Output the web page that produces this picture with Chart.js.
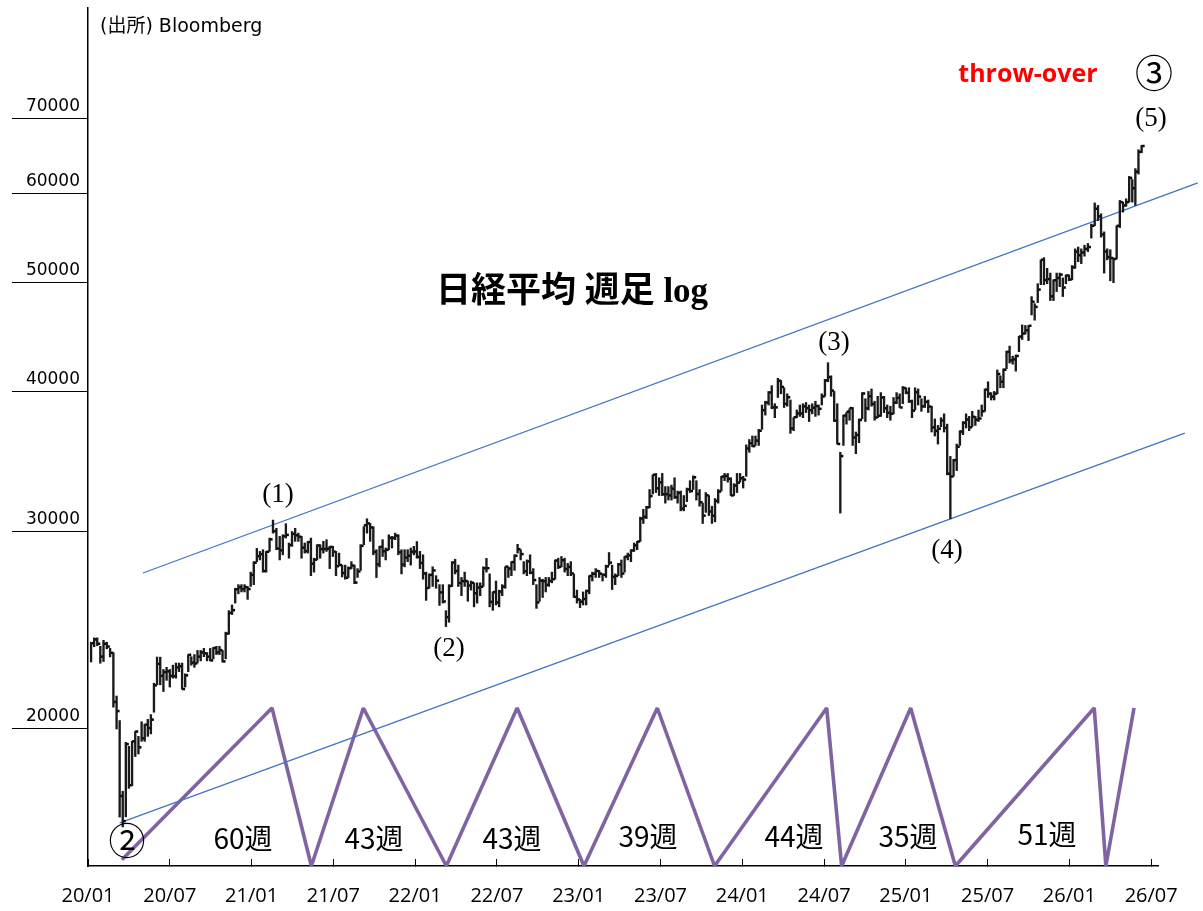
<!DOCTYPE html>
<html><head><meta charset="utf-8">
<script src="https://cdn.jsdelivr.net/npm/chart.js@4.4.1/dist/chart.umd.min.js"></script>
<style>html,body{margin:0;padding:0;background:#fff}canvas{display:block}</style>
</head><body>
<canvas id="c" width="1203" height="911"></canvas>
<script>
// ---------- DATA ----------
const firstWeek = '2020-01-06'; // Monday of first weekly bar
const high = [
// 2020
23903,24115,24116,23700,23995,23900,23600,23400,21400,20350,17600,19460,19300,19500,19900,19700,20300,20200,20400,20600,21970,23185,23180,22600,22700,22600,22800,22900,22900,22900,22400,23300,23200,23300,23500,23500,23600,23400,23600,23650,23700,23700,23500,24400,25500,25800,26700,26900,26900,26900,26800,27600,
// 2021
28200,28979,28800,28900,28800,29600,30714,30200,29700,29800,30485,29300,30000,30200,29900,29700,29300,29400,29600,28400,29200,29200,29400,29500,29100,29100,28800,28700,28000,28000,27900,28200,28000,27800,29200,30300,30795,30500,30300,28900,29100,29500,29000,29800,29700,29900,29800,28900,28900,28900,29000,29100,
// 2022
29388,28800,28600,27600,27500,27900,27400,26900,26900,25500,26900,28200,28338,28000,27300,27600,27100,27100,27000,27000,27000,27900,28389,27500,26500,27100,26600,26900,27900,27900,28200,28600,29222,28900,28200,28300,28600,27800,26900,27300,27200,27300,27300,27600,28300,28400,28500,28400,28100,28200,27500,26600,
// 2023
26100,26500,26600,27400,27600,27800,27700,27500,28000,28734,28000,27500,28100,28300,28500,28700,28900,29300,29400,30900,31400,31600,32700,33700,33800,33500,33800,32900,32900,33000,33500,32600,32600,32300,32800,33300,33634,33300,32700,31800,32500,32300,31600,32100,32700,33600,33800,33800,33500,33100,33800,33800,
// 2024
33600,35839,36239,36500,36500,37000,38900,39200,39990,40472,39000,41087,40900,40300,39800,39300,37900,38500,38900,39000,39100,38900,39000,39200,38900,39800,41000,42426,41300,40000,39000,35300,38100,38300,38600,38700,36800,37800,39900,39400,40000,40200,39200,39600,39900,39600,38900,38800,39500,39900,39800,40400,40300,
// 2025
40300,39300,40300,40200,39400,39600,39300,38800,37800,37300,37900,38200,37400,35000,34800,35900,36900,37600,38200,38000,38400,38000,38500,38900,40200,40800,39900,40000,41800,41300,41900,43451,43900,43000,43100,44800,45852,45800,45800,48597,47900,49900,52400,52636,51500,51000,50300,51000,51000,50500,50800,50800,
// 2026
51800,53600,53800,53600,54000,54200,56400,58900,58600,57600,55500,53600,53500,52600,56200,59200,59000,59400,62200,61800,63200,65700,66300
];
const low = [
// 2020
22951,23680,23730,22892,22971,23580,23190,20916,20000,16690,16358,16700,17707,17800,18900,19000,19500,19500,19700,19800,20700,21900,21900,21600,22100,21800,22200,22200,22500,21700,21800,22500,22800,22700,22900,23000,23200,23000,23000,23100,23300,23300,22948,23100,24300,25300,25900,26400,26500,26500,26100,26800,
// 2021
26900,28200,28300,27600,27600,28800,29900,28900,28300,28600,29600,28400,29100,29400,29400,28400,28700,28700,27400,27600,28300,28400,28700,28800,27800,28500,27400,28000,27330,27200,27300,27800,26954,27300,27700,29200,29900,29400,28600,27293,27900,28500,28300,28900,29000,29500,28600,27500,27900,28200,28000,28600,
// 2022
28400,27800,27200,26044,26700,26800,26700,25775,25900,24681,24900,26800,27500,26800,26300,26800,26000,26600,25700,25900,26300,26800,27600,25700,25520,25800,25700,26300,26700,27300,27400,27700,28700,28300,27500,27400,27500,26900,25621,26000,26200,26500,26800,27000,27200,27800,27900,27600,27400,27400,26200,25900,
// 2023
25662,25800,25800,26400,27100,27300,27300,27100,27300,28000,26632,26900,27400,27300,27600,28300,28200,28800,28900,29400,30500,30800,31500,32400,32500,32300,32300,31800,32000,32000,32100,31800,31300,31300,31900,32500,32700,32000,31600,30500,31200,31000,30500,30600,31800,32600,33300,33200,32300,32300,32500,33200,
// 2024
32800,33600,35300,35700,35800,35800,37000,38100,38900,38600,37900,39500,39800,38700,38800,36700,36900,37900,38000,37900,38300,37600,38200,38000,38100,38900,39600,40800,39600,37600,35900,31156,35800,37400,37700,35800,35200,36000,37800,37600,38500,38800,37700,37900,38000,38300,37900,37700,38200,39000,38700,39000,39800,
// 2025
39100,37900,38500,38900,38400,38700,38300,36800,36500,35900,37200,36800,33700,30792,33600,34000,35800,36600,37100,36900,37200,37300,37600,38000,38400,39500,39300,39300,39800,40300,40300,41900,42400,42300,41700,43400,44500,45000,44400,46800,46300,48000,49800,49800,49900,48200,48200,49100,49600,48600,49900,50200,
// 2026
50300,51500,52200,52000,52800,53300,54800,56200,56800,54900,51000,52400,50200,50000,52500,56000,57800,58500,59000,59000,58600,62500,65300
];
const close = [
// 2020
23850,24041,23827,23205,23827,23687,23386,21142,20749,17431,16553,19389,17820,19498,19897,19262,19619,20179,20037,20388,21877,22863,22305,22478,22512,22306,22290,22696,22751,21710,22329,23289,22920,22882,23205,23406,23360,23204,23029,23619,23410,23516,22977,24325,25385,25527,26644,26751,26652,26763,26656,27444,
// 2021
28139,28519,28631,27663,28779,29520,30018,28966,28864,29717,29792,29176,29854,29768,29683,29020,28812,29358,28084,28317,29149,28941,28948,28964,29066,28783,27940,28003,27548,27283,27820,27977,27013,27641,29128,30381,30500,30248,28771,28048,29068,28804,28892,29611,29609,29745,28751,28029,28437,28545,28782,28791,
// 2022
28478,28124,27522,26717,27440,27696,27122,26476,25985,25163,26827,28149,27666,26985,27093,27105,26848,27004,26427,26739,26781,27824,27824,25963,26491,25935,26517,26788,27914,27801,28175,28546,28930,28641,27650,28214,27567,27153,25937,27116,27091,26891,27105,27199,28263,27899,28283,27777,27901,27527,26235,26095,
// 2023
25974,26120,26553,27383,27509,27670,27513,27453,27927,28143,27333,27385,28041,27518,28493,28564,28856,29157,29388,30808,30916,31524,32265,33706,32781,33189,32388,32391,32304,32759,32193,32473,31450,31624,32710,32606,33533,32402,31857,30995,32315,31259,30991,31950,32568,33585,33625,33431,32307,32970,33169,33464,
// 2024
33377,35577,35963,35751,36158,36897,38487,39098,39910,38707,38708,40888,40369,38992,39523,37068,37934,38236,38229,38787,38646,38488,38683,38815,38596,39583,40912,41190,40063,37667,35910,35025,38062,38364,38647,36391,36581,37723,39829,38635,39605,38981,37913,38053,39500,38642,38284,38208,39091,39470,38702,40281,39894,
// 2025
39190,38451,39931,39572,38787,39149,38776,37155,36887,37053,37677,37120,33781,33586,34730,35705,36831,37503,37753,37160,37965,37741,37834,38403,40150,39811,39570,39819,41456,40800,41820,43378,42633,42718,43019,44768,45045,45355,45770,48089,47582,49300,52411,50276,50376,48625,50253,50491,50836,49507,50750,50339,
// 2026
51600,53300,52900,53200,53600,53800,56200,58200,57300,55200,53300,52700,52600,52500,56200,59000,58600,59000,62000,60700,62800,65400,66200
];

const yTickValues = [20000, 30000, 40000, 50000, 60000, 70000];
const xTickLabels = ['20/01','20/07','21/01','21/07','22/01','22/07','23/01','23/07','24/01','24/07','25/01','25/07','26/01','26/07'];

// channel lines (date, index level)
const channelUpper = [['2020-05-02', 27550], ['2026-10-14', 61370]];
const channelLower = [['2020-03-11', 16490], ['2026-09-15', 36720]];

// week-count zigzag (turning dates, 0 = trough, 1 = peak)
const waveDates  = ['2020-03-16','2021-02-15','2021-05-13','2021-09-07','2022-03-10','2022-08-16','2023-01-13','2023-06-24','2023-10-31','2024-07-07','2024-08-10','2025-01-12','2025-04-20','2026-02-24','2026-03-22','2026-05-24'];
const waveLevels = [0.04,1,0,1,0,1,0,1,0,1,0,1,0,1,0,1];
const waveWeeks  = ['60週','43週','43週','39週','44週','35週','51週'];

// ---------- helpers ----------
function parseD(s){ const [y,m,d] = s.split('-').map(Number); return new Date(Date.UTC(y, m-1, d)); }
function toMonths(dt){
  const y = dt.getUTCFullYear(), m = dt.getUTCMonth(), d = dt.getUTCDate();
  const dim = new Date(Date.UTC(y, m+1, 0)).getUTCDate();
  return (y-2020)*12 + m + (d-1)/dim;
}
const w0 = parseD(firstWeek);
const n = Math.min(high.length, low.length, close.length);
const weekX = [];
for (let i = 0; i < n; i++) weekX.push(toMonths(new Date(w0.getTime() + (7*i + 2)*86400000)));

const barData = weekX.map((x,i) => ({x, y:[low[i], high[i]]}));
const closeData = weekX.map((x,i) => ({x, y: close[i]}));
const upperData = channelUpper.map(([d,v]) => ({x: toMonths(parseD(d)), y: v}));
const lowerData = channelLower.map(([d,v]) => ({x: toMonths(parseD(d)), y: v}));
const waveData = waveDates.map((d,i) => ({x: toMonths(parseD(d)), y: waveLevels[i]}));
const xTickMonths = xTickLabels.map(l => { const [yy,mm] = l.split('/').map(Number); return (yy-20)*12 + (mm-1); });

// ---------- text notes ----------
const SERIF = '"Liberation Serif", "DejaVu Serif", "Noto Sans CJK JP", serif';
const notes = [
  {t:'(出所) Bloomberg', x:100, y:27, font:'19px "DejaVu Sans", "Noto Sans CJK JP", sans-serif', align:'left'},
  {t:'日経平均 週足 log', x:572, y:293, font:'bold 35px ' + SERIF},
  {t:'throw-over', x:1028, y:75, font:'bold 25px "Open Sans", "DejaVu Sans", sans-serif', color:'#ff0000'},
  {t:'③', x:1154, y:73, font:'38px "Noto Sans CJK JP", sans-serif'},
  {t:'(5)', x:1151, y:119, font:'27px ' + SERIF},
  {t:'(1)', x:278, y:495, font:'27px ' + SERIF},
  {t:'(2)', x:449, y:649, font:'27px ' + SERIF},
  {t:'(3)', x:834, y:343, font:'27px ' + SERIF},
  {t:'(4)', x:947, y:551, font:'27px ' + SERIF},
  {t:'②', x:127, y:841, font:'37px "Noto Sans CJK JP", sans-serif'}
];
const weekLabelPos = [[243,838],[374,838],[512,838],[648,836],[794,836],[908,836],[1047,834]];
waveWeeks.forEach((t,i) => notes.push({t, x:weekLabelPos[i][0], y:weekLabelPos[i][1], font:'28px "Noto Sans CJK JP", sans-serif'}));

const notesPlugin = {
  id: 'notes',
  afterDraw(chart){
    const ctx = chart.ctx;
    notes.forEach(nt => {
      ctx.save();
      ctx.font = nt.font;
      ctx.fillStyle = nt.color || '#000';
      ctx.textAlign = nt.align || 'center';
      ctx.textBaseline = 'middle';
      ctx.fillText(nt.t, nt.x, nt.y);
      ctx.restore();
    });
  }
};

function draw(){
  new Chart(document.getElementById('c'), {
    type: 'bar',
    data: {
      datasets: [
        {type:'bar', data: barData, backgroundColor:'#1a1a1a', borderWidth:0, barThickness:1.7, grouped:false, order:0},
        {type:'scatter', data: closeData, pointStyle:'dash', pointRadius:3, pointBorderWidth:2.5, borderColor:'#000', backgroundColor:'#000', order:0},
        {type:'line', data: upperData, borderColor:'#4472C4', borderWidth:1.3, pointRadius:0, clip:false, order:1},
        {type:'line', data: lowerData, borderColor:'#4472C4', borderWidth:1.3, pointRadius:0, clip:false, order:1},
        {type:'line', data: waveData, yAxisID:'z', borderColor:'#8064A2', borderWidth:3.6, pointRadius:0, clip:false, order:2, borderJoinStyle:'bevel'}
      ]
    },
    options: {
      responsive:false, animation:false, events:[], devicePixelRatio:1,
      layout:{padding:{top:8, right:43, left:0, bottom:0}},
      plugins:{legend:{display:false}, tooltip:{enabled:false}},
      scales:{
        x:{
          type:'linear', min:0, max:78.5, offset:false,
          afterBuildTicks(s){ s.ticks = xTickMonths.map(v => ({value:v})); },
          afterFit(s){ s.height = 45; },
          ticks:{autoSkip:false, maxRotation:0, padding:25, color:'#000',
                 font:{family:'"Open Sans", "DejaVu Sans", sans-serif', size:20},
                 callback:(v) => xTickLabels[xTickMonths.indexOf(v)] ?? ''},
          grid:{drawOnChartArea:false, drawTicks:true, tickLength:-7, color:'#000', lineWidth:1, offset:false},
          border:{display:true, color:'#000', width:1.5}
        },
        y:{
          type:'logarithmic', position:'left', min:15096, max:87890,
          afterBuildTicks(s){ s.ticks = yTickValues.map(v => ({value:v})); },
          afterFit(s){ s.width = 88; },
          ticks:{autoSkip:false, padding:-68, labelOffset:-12, color:'#000',
                 font:{family:'"DejaVu Sans", sans-serif', size:17},
                 callback:(v) => String(v)},
          grid:{drawOnChartArea:false, drawTicks:true, tickLength:76, color:'#000', lineWidth:1},
          border:{display:true, color:'#000', width:1.5}
        },
        z:{type:'linear', display:false, min:0, max:5.43}
      }
    },
    plugins:[notesPlugin]
  });
}
const fontLoads = ['16px "DejaVu Sans"','20px "Open Sans"','bold 23px "Open Sans"','28px "Noto Sans CJK JP"','26px "Liberation Serif"','bold 34px "Liberation Serif"']
  .map(f => document.fonts ? document.fonts.load(f, '0週日') : Promise.resolve());
Promise.race([Promise.all(fontLoads), new Promise(r => setTimeout(r, 1500))]).then(draw, draw);
</script>
</body></html>
